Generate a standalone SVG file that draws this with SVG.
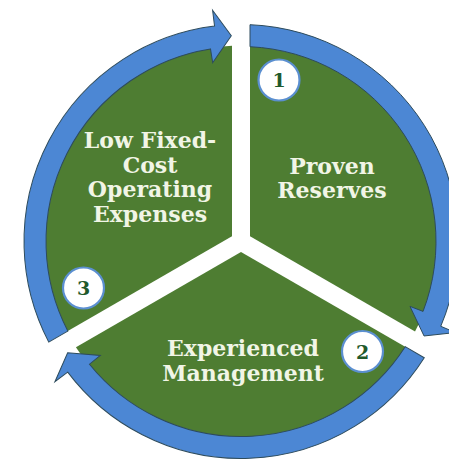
<svg xmlns="http://www.w3.org/2000/svg" width="449" height="461" viewBox="0 0 449 461">
  <style>
    .sector { fill: #4e7d32; }
    .arrow { fill: #4c87d4; stroke: #2d4b5c; stroke-width: 1; stroke-linejoin: miter; }
    .label { font-family: "DejaVu Serif", "Liberation Serif", serif; font-weight: bold; font-size: 22px; fill: #f1f5e6; text-anchor: middle; }
    .badge circle { fill: #ffffff; stroke: #5b8fd0; stroke-width: 2.2; }
    .badge text { font-family: "DejaVu Serif", "Liberation Serif", serif; font-weight: bold; font-size: 19px; fill: #1f5a2c; text-anchor: middle; }
  </style>
  <defs>
    <!-- one third of the disc, between the 0° and 120° gaps (centre at origin) -->
    <path id="slice" d="M 9,-5.196 L 9,-195.79 A 196 196 0 0 1 174.05,90.10 Z"/>
    <!-- curved arrow running clockwise along the rim over the same third -->
    <path id="rimArrow" d="M 9,-216.81 A 217 217 0 0 1 199.75,84.79 L 214.48,91.04 L 183.06,94.48 L 168.98,64.86 L 182.05,69.88 A 195 195 0 0 0 9,-194.79 Z"/>
  </defs>

  <rect width="449" height="461" fill="#ffffff"/>

  <g id="node-proven-reserves">
    <use href="#slice" class="sector" transform="translate(241 241.5)"/>
    <text class="label" x="332" y="174">Proven</text>
    <text class="label" x="332" y="198">Reserves</text>
  </g>

  <g id="node-experienced-management">
    <use href="#slice" class="sector" transform="translate(241 241.5) rotate(120)"/>
    <text class="label" x="243" y="356">Experienced</text>
    <text class="label" x="243" y="381">Management</text>
  </g>

  <g id="node-low-fixed-cost">
    <use href="#slice" class="sector" transform="translate(241 241.5) rotate(240)"/>
    <text class="label" x="150" y="148">Low Fixed-</text>
    <text class="label" x="150" y="173">Cost</text>
    <text class="label" x="150" y="197">Operating</text>
    <text class="label" x="150" y="222">Expenses</text>
  </g>

  <g id="connectors">
    <use href="#rimArrow" class="arrow" transform="translate(241 241.5)"/>
    <use href="#rimArrow" class="arrow" transform="translate(241 241.5) rotate(120)"/>
    <use href="#rimArrow" class="arrow" transform="translate(241 241.5) rotate(240)"/>
  </g>

  <g id="badge-1" class="badge">
    <circle cx="279" cy="80" r="20.5"/>
    <text x="279" y="86.5">1</text>
  </g>
  <g id="badge-2" class="badge">
    <circle cx="362.5" cy="351.5" r="20.5"/>
    <text x="362.5" y="358.5">2</text>
  </g>
  <g id="badge-3" class="badge">
    <circle cx="83.5" cy="288" r="20.5"/>
    <text x="83.5" y="295">3</text>
  </g>
</svg>
